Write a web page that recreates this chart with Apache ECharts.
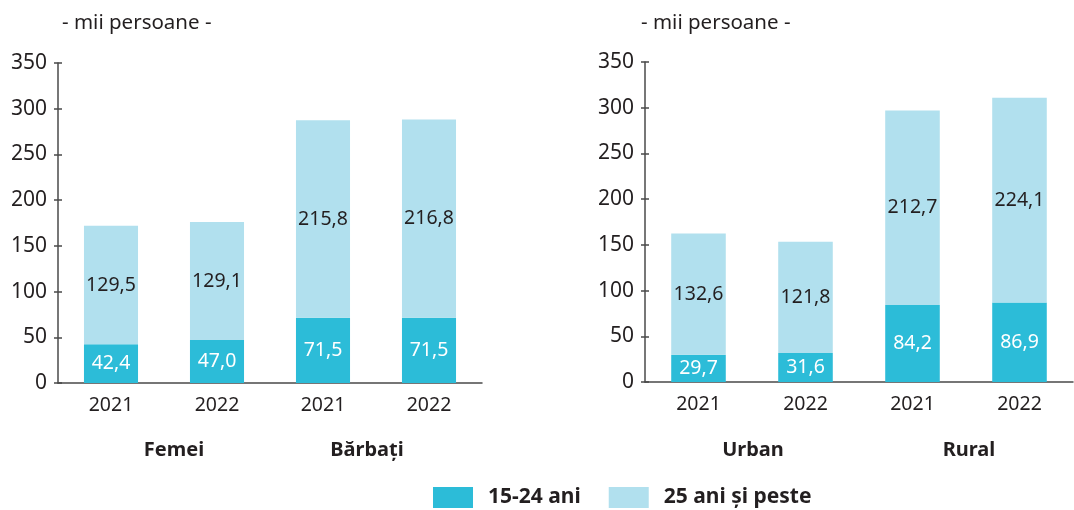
<!DOCTYPE html>
<html><head><meta charset="utf-8">
<script src="https://cdn.jsdelivr.net/npm/echarts@6/dist/echarts.min.js"></script>
<style>html,body{margin:0;padding:0;background:#fff}#c{width:1074px;height:510px}</style>
</head><body><div id="c"></div>
<script>
var years = ['2021', '2022', '2021', '2022'];
var groupsLeft = ['Femei', 'Bărbați'];
var groupsRight = ['Urban', 'Rural'];
var seriesNames = ['15-24 ani', '25 ani și peste'];
var leftYoung = [42.4, 47.0, 71.5, 71.5];
var leftOld = [129.5, 129.1, 215.8, 216.8];
var rightYoung = [29.7, 31.6, 84.2, 86.9];
var rightOld = [132.6, 121.8, 212.7, 224.1];
var unitLabel = '- mii persoane -';

var FONT = '"Noto Sans", sans-serif';
var TXT = '#231f20';
var DARK = '#2cbcd8';
var LIGHT = '#b1e0ee';
var AX = '#4a4a4a';
function fmt(p){ return p.value.toFixed(1).replace('.', ','); }

var grids = [
  {left: 58, width: 424, top: 63, height: 320},
  {left: 645, width: 428, top: 62, height: 320}
];
var xAxes = [], yAxes = [];
[0,1].forEach(function(g){
  xAxes.push({type:'category', gridIndex:g, data:years, boundaryGap:true,
    axisLine:{lineStyle:{color:AX, width:1.5}},
    axisTick:{length:4, lineStyle:{color:AX, width:1.5}},
    axisLabel:{color:TXT, fontFamily:FONT, fontSize:19.5, margin:12}});
  xAxes.push({type:'category', gridIndex:g, data:years, boundaryGap:true, position:'bottom',
    axisLine:{show:false},
    axisTick:{inside:true, length:4, lineStyle:{color:AX, width:1.5}},
    axisLabel:{show:false}});
  yAxes.push({type:'value', gridIndex:g, min:0, max:350, interval:50,
    splitLine:{show:false},
    axisLine:{show:true, lineStyle:{color:AX, width:1.5}},
    axisTick:{show:true, length:4, lineStyle:{color:AX, width:1.5}},
    axisLabel:{color:TXT, fontFamily:FONT, fontSize:21, margin:11}});
  yAxes.push({type:'value', gridIndex:g, min:0, max:350, interval:50, position:'left',
    splitLine:{show:false}, axisLine:{show:false},
    axisTick:{show:true, inside:true, length:4, lineStyle:{color:AX, width:1.5}},
    axisLabel:{show:false}});
});

function bar(name, data, g, color, labelColor, stack){
  return {name:name, type:'bar', stack:stack, xAxisIndex:g*2, yAxisIndex:g*2, data:data,
    barWidth:'51%', itemStyle:{color:color},
    label:{show:true, position:'inside', formatter:fmt, color:labelColor, fontFamily:FONT, fontSize:19.5}};
}

var series = [
  bar(seriesNames[0], leftYoung, 0, DARK, '#ffffff', 'L'),
  bar(seriesNames[1], leftOld, 0, LIGHT, TXT, 'L'),
  bar(seriesNames[0], rightYoung, 1, DARK, '#ffffff', 'R'),
  bar(seriesNames[1], rightOld, 1, LIGHT, TXT, 'R')
];

var titleStyle = {fill:TXT, font:'20.5px ' + FONT};
var groupStyle = {fill:TXT, font:'bold 20px ' + FONT, textAlign:'center', textVerticalAlign:'middle'};
var graphic = [
  {type:'text', left:62, top:13, style:Object.assign({text:unitLabel}, titleStyle)},
  {type:'text', left:641, top:13, style:Object.assign({text:unitLabel}, titleStyle)},
  {type:'text', x:174, y:450, style:Object.assign({text:groupsLeft[0]}, groupStyle)},
  {type:'text', x:367, y:450, style:Object.assign({text:groupsLeft[1]}, groupStyle)},
  {type:'text', x:753, y:450, style:Object.assign({text:groupsRight[0]}, groupStyle)},
  {type:'text', x:969, y:450, style:Object.assign({text:groupsRight[1]}, groupStyle)}
];

var chart = echarts.init(document.getElementById('c'), null, {renderer:'canvas'});
chart.setOption({
  animation:false,
  grid:grids, xAxis:xAxes, yAxis:yAxes, series:series, graphic:graphic,
  legend:{data:seriesNames, left:433, top:487, itemWidth:40, itemHeight:21, itemGap:28,
    icon:'rect', padding:0,
    textStyle:{color:TXT, fontFamily:FONT, fontSize:21, fontWeight:'bold', padding:[0,0,0,10]}}
});
</script></body></html>
